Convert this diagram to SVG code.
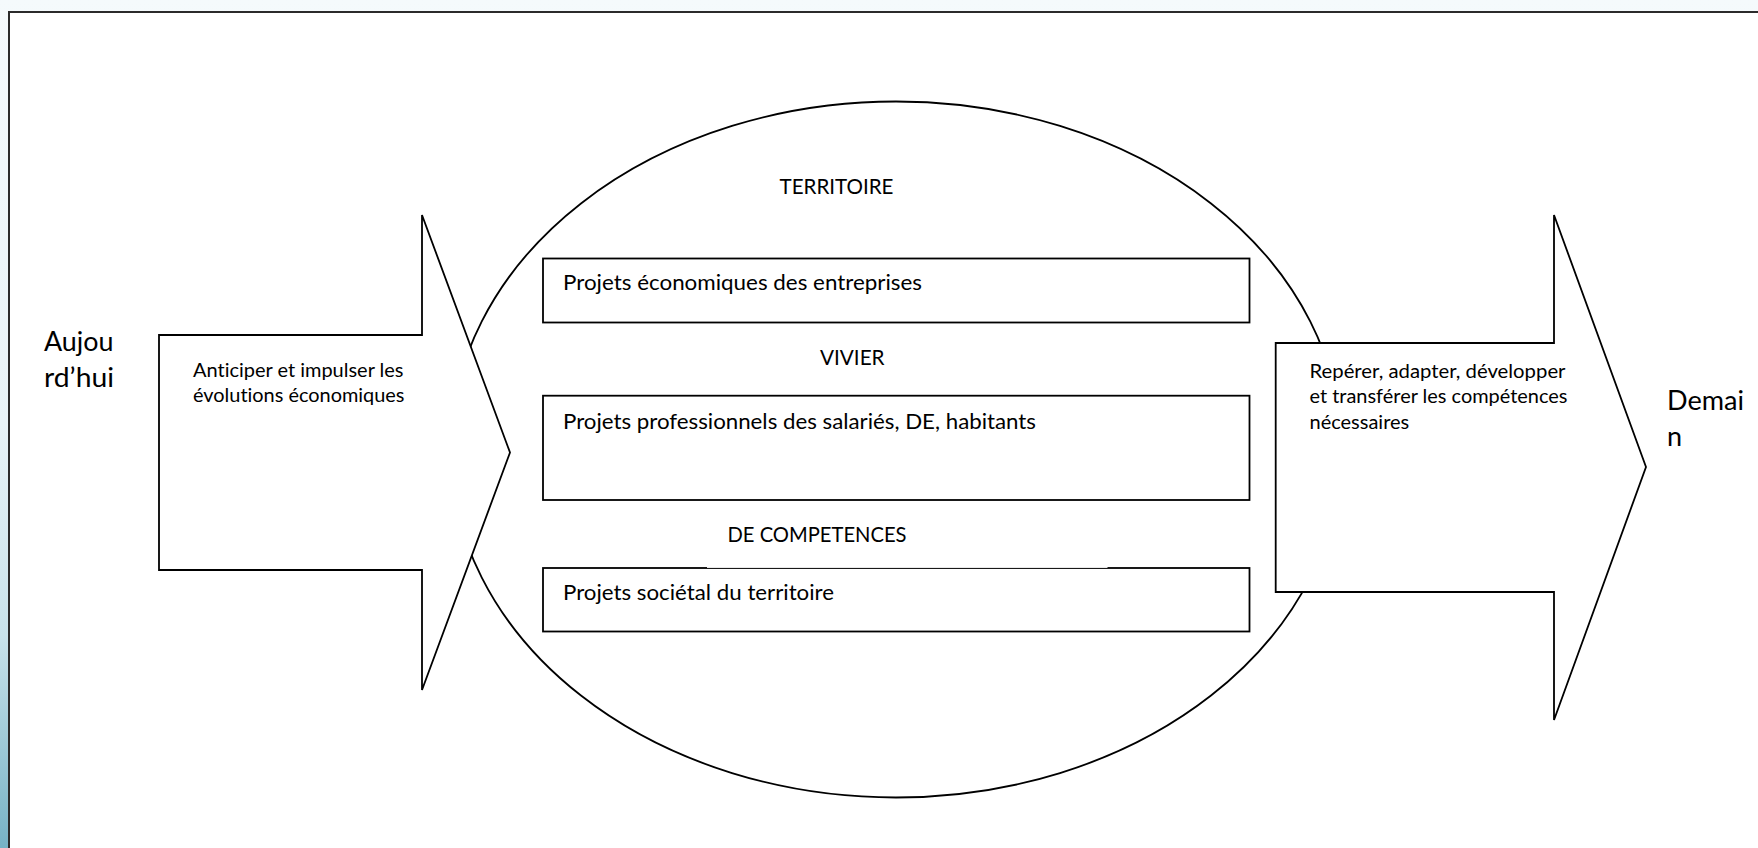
<svg xmlns="http://www.w3.org/2000/svg" width="1758" height="848" viewBox="0 0 1758 848">
  <defs>
    <linearGradient id="bg" x1="0" y1="0" x2="0" y2="1">
      <stop offset="0" stop-color="#f5fafc"/>
      <stop offset="0.5" stop-color="#e8f3f7"/>
      <stop offset="0.75" stop-color="#c8e2ea"/>
      <stop offset="1" stop-color="#76b2c5"/>
    </linearGradient>
    <style>
      .shape { fill: #ffffff; stroke: #000000; stroke-width: 1.8; stroke-linejoin: miter; }
      .t { font-family: Lato, "Open Sans", "Liberation Sans", sans-serif; fill: #000000; font-variant-ligatures: none; font-feature-settings: "liga" 0, "clig" 0; }
      .small { font-size: 19.5px; }
      .mid { font-size: 22px; }
      .big { font-size: 27px; }
    </style>
  </defs>

  <rect x="0" y="0" width="1758" height="848" fill="url(#bg)"/>
  <rect x="9" y="12" width="1800" height="900" fill="#ffffff" stroke="#2b2b2b" stroke-width="2"/>

  <g id="ellipse-territoire">
    <ellipse class="shape" cx="896" cy="449.5" rx="445.5" ry="348"/>
    <text class="t mid" x="779.5" y="193.5" textLength="114" lengthAdjust="spacingAndGlyphs">TERRITOIRE</text>
    <text class="t mid" x="820" y="365.3" textLength="64.6" lengthAdjust="spacingAndGlyphs">VIVIER</text>
    <text class="t mid" x="727.5" y="541.7" textLength="179" lengthAdjust="spacingAndGlyphs">DE COMPETENCES</text>
  </g>

  <g id="box-entreprises">
    <rect class="shape" x="543" y="258.5" width="706.5" height="64"/>
    <text class="t mid" x="563" y="290" textLength="359" lengthAdjust="spacingAndGlyphs">Projets économiques des entreprises</text>
  </g>

  <g id="box-professionnels">
    <rect class="shape" x="543" y="395.7" width="706.5" height="104.3"/>
    <text class="t mid" x="563" y="428.5" textLength="473" lengthAdjust="spacingAndGlyphs">Projets professionnels des salariés, DE, habitants</text>
  </g>

  <g id="box-societal">
    <rect class="shape" x="543" y="568" width="706.5" height="63.5"/>
    <rect x="707" y="566.5" width="400.5" height="1.4" fill="#ffffff"/>
    <text class="t mid" x="563" y="599.5" textLength="271" lengthAdjust="spacingAndGlyphs">Projets sociétal du territoire</text>
  </g>

  <g id="arrow-left">
    <polygon class="shape" points="159,335 422,335 422,215 510,452.5 422,690 422,570 159,570"/>
    <text class="t small" x="193" y="377" textLength="210.5" lengthAdjust="spacingAndGlyphs">Anticiper et impulser les</text>
    <text class="t small" x="193" y="401.5" textLength="211.5" lengthAdjust="spacingAndGlyphs">évolutions économiques</text>
  </g>

  <g id="arrow-right">
    <polygon class="shape" points="1275.7,343 1554,343 1554,215 1646,467 1554,720 1554,592 1275.7,592"/>
    <text class="t small" x="1309.5" y="378.3" textLength="256" lengthAdjust="spacingAndGlyphs">Repérer, adapter, développer</text>
    <text class="t small" x="1309.5" y="403" textLength="258" lengthAdjust="spacingAndGlyphs">et transférer les compétences</text>
    <text class="t small" x="1309.5" y="429" textLength="99.7" lengthAdjust="spacingAndGlyphs">nécessaires</text>
  </g>

  <g id="label-aujourdhui">
    <text class="t big" x="44" y="350.5" textLength="69.5" lengthAdjust="spacingAndGlyphs">Aujou</text>
    <text class="t big" x="44" y="386.5" textLength="70" lengthAdjust="spacingAndGlyphs">rd’hui</text>
  </g>

  <g id="label-demain">
    <text class="t big" x="1667" y="410" textLength="77" lengthAdjust="spacingAndGlyphs">Demai</text>
    <text class="t big" x="1667" y="446">n</text>
  </g>

  <g id="connectors"/>
</svg>
